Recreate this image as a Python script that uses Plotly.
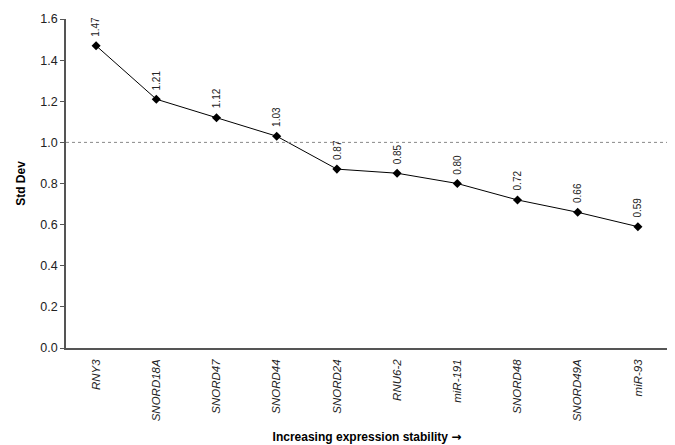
import plotly.graph_objects as go

genes = ["RNY3", "SNORD18A", "SNORD47", "SNORD44", "SNORD24", "RNU6-2",
         "miR-191", "SNORD48", "SNORD49A", "miR-93"]
std_dev = [1.47, 1.21, 1.12, 1.03, 0.87, 0.85, 0.80, 0.72, 0.66, 0.59]
value_labels = ["1.47", "1.21", "1.12", "1.03", "0.87", "0.85", "0.80", "0.72", "0.66", "0.59"]
y_ticks = [0.0, 0.2, 0.4, 0.6, 0.8, 1.0, 1.2, 1.4, 1.6]
y_tick_text = ["0.0", "0.2", "0.4", "0.6", "0.8", "1.0", "1.2", "1.4", "1.6"]
threshold = 1.0

FONT = "Liberation Sans, Arial, sans-serif"
idx = list(range(len(genes)))
tick_text = ["<i>%s</i>" % g for g in genes]

fig = go.Figure()
fig.add_trace(go.Scatter(
    x=idx, y=std_dev, mode="lines+markers",
    line=dict(color="black", width=1),
    marker=dict(symbol="diamond", size=7, color="black"),
    showlegend=False, hoverinfo="skip"))

fig.add_shape(type="line", xref="paper", x0=0, x1=1, yref="y", y0=threshold, y1=threshold,
              line=dict(color="#888888", width=1, dash="dot"))

for i, v, t in zip(idx, std_dev, value_labels):
    fig.add_annotation(x=i, y=v, text=t, showarrow=False, textangle=-90,
                       yanchor="bottom", xanchor="center", yshift=7,
                       font=dict(family=FONT, size=10, color="#222222"))

fig.update_layout(
    width=667, height=437,
    margin=dict(l=58, r=7, t=11, b=97),
    paper_bgcolor="white", plot_bgcolor="white",
    font=dict(family=FONT, color="black"),
    xaxis=dict(range=[-0.5, len(genes) - 0.5], tickmode="array", tickvals=idx, ticktext=tick_text,
               tickangle=-90, tickfont=dict(size=11.5, family=FONT, color="#222222"),
               showline=True, linecolor="#555555", linewidth=1.5, showgrid=False, zeroline=False,
               ticks="outside", ticklen=5, tickcolor="rgba(0,0,0,0)", automargin=False,
               title=dict(text="<b>Increasing expression stability <span style='font-family:DejaVu Sans'>\u2192</span></b>",
                          font=dict(size=12, family=FONT), standoff=12)),
    yaxis=dict(range=[0, 1.6], tickmode="array", tickvals=y_ticks, ticktext=y_tick_text,
               tickfont=dict(size=12.5, family=FONT, color="#222222"),
               showline=True, linecolor="#555555", linewidth=1.5, showgrid=False, zeroline=False,
               ticks="outside", ticklen=4, tickcolor="#555555", automargin=False,
               title=dict(text="<b>Std Dev</b>", font=dict(size=12, family=FONT), standoff=12)),
)

fig.write_html("out.html")
